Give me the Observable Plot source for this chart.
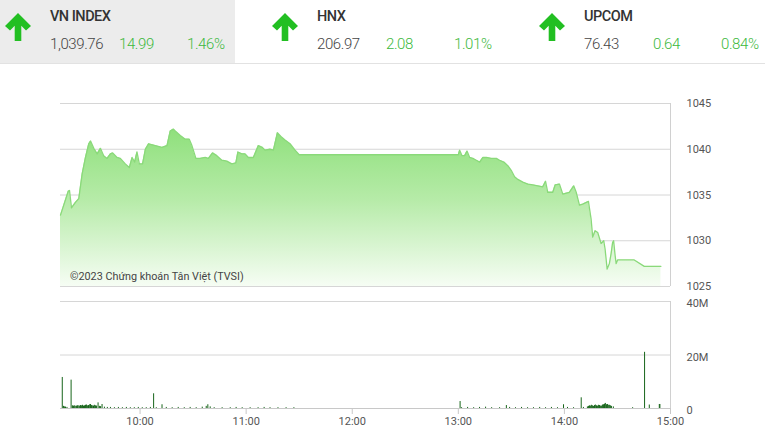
<!DOCTYPE html>
<html><head><meta charset="utf-8">
<script src="https://cdn.jsdelivr.net/npm/d3@7"></script>
<script src="https://cdn.jsdelivr.net/npm/@observablehq/plot@0.6"></script>
<style>
body{margin:0;background:#fff;font-family:Roboto,"Noto Sans",sans-serif;}
#wrap{position:relative;width:765px;height:444px;overflow:hidden;background:#fff;}
.abs{position:absolute;}
.ttl{font-size:14.5px;font-weight:500;color:#333;letter-spacing:-0.5px;white-space:nowrap;}
.num{font-size:15px;font-weight:300;color:#444;letter-spacing:-0.4px;white-space:nowrap;}
.grn{color:#3cb93c;}
#price,#vol{position:absolute;left:0;}
#price{top:0;}
#vol{top:290px;}
.copy{font-size:10.8px;color:#444;white-space:nowrap;}
</style>
</head><body>
<div id="wrap">
  <div class="abs" style="left:0;top:0;width:235px;height:63px;background:#ececec"></div>
  <div class="abs" style="left:0;top:63px;width:765px;height:1px;background:#e2e2e2"></div>
  <div id="hdr"></div>
  <div id="price"></div>
  <div id="vol"></div>
  <div class="abs copy" style="left:70px;top:270px">©2023 Chứng khoán Tân Việt (TVSI)</div>
</div>
<script>
// Header data
const indexNames = ["VN INDEX", "HNX", "UPCOM"];
const indexValues = ["1,039.76", "206.97", "76.43"];
const indexChanges = ["14.99", "2.08", "0.64"];
const indexPercents = ["1.46%", "1.01%", "0.84%"];

// Price series (time of day, index level)
const priceTimes = ["09:15:00","09:19:21","09:20:05","09:21:13","09:23:28","09:25:20","09:27:15","09:29:07","09:31:00","09:32:00","09:33:50","09:35:45","09:37:35","09:39:25","09:41:20","09:43:15","09:44:30","09:47:00","09:48:50","09:51:40","09:53:55","09:55:30","09:56:55","09:58:15","09:59:35","10:01:25","10:03:00","10:04:50","10:08:35","10:12:25","10:15:15","10:17:05","10:18:55","10:19:55","10:22:45","10:25:35","10:27:50","10:29:20","10:31:35","10:34:00","10:36:50","10:38:40","10:41:00","10:43:25","10:46:15","10:49:05","10:51:55","10:54:10","10:55:20","10:57:35","10:59:25","11:01:15","11:04:05","11:06:55","11:09:10","11:10:40","11:13:30","11:15:25","11:17:40","11:20:10","11:22:00","11:24:50","11:27:40","11:30:00","13:00:00","13:00:45","13:02:05","13:03:35","13:04:55","13:06:25","13:08:15","13:10:10","13:12:05","13:13:55","13:15:50","13:18:40","13:21:30","13:23:20","13:25:45","13:28:00","13:29:55","13:31:50","13:33:40","13:36:30","13:39:20","13:42:10","13:44:55","13:47:45","13:49:20","13:50:35","13:53:25","13:54:45","13:57:10","13:59:05","14:02:50","14:05:15","14:06:40","14:08:30","14:10:20","14:13:35","14:15:05","14:16:00","14:17:20","14:18:50","14:20:45","14:22:15","14:23:00","14:24:10","14:25:25","14:26:25","14:27:15","14:27:50","14:28:40","14:29:15","14:30:05","14:39:30","14:45:10","14:54:35"];
const priceValues = [1032.8,1035.4,1035.5,1033.6,1034.2,1034.6,1037.3,1039.1,1040.6,1040.9,1040.1,1039.5,1040.1,1039.3,1039.0,1039.5,1039.6,1039.1,1039.0,1038.4,1038.0,1039.1,1038.6,1039.7,1038.4,1038.4,1040.0,1040.6,1040.4,1040.2,1040.4,1042.0,1042.2,1042.0,1041.5,1041.1,1041.1,1040.4,1039.0,1039.0,1039.1,1039.0,1039.6,1039.3,1038.8,1038.7,1038.4,1038.5,1039.7,1039.5,1039.5,1039.1,1039.1,1040.4,1040.2,1039.9,1040.0,1039.9,1041.8,1041.3,1041.0,1040.6,1039.9,1039.4,1039.4,1039.9,1039.3,1039.3,1039.8,1039.1,1039.0,1038.8,1038.6,1039.1,1039.1,1039.0,1039.0,1038.8,1038.6,1038.2,1037.7,1037.0,1036.7,1036.4,1036.2,1036.1,1036.0,1035.9,1036.5,1035.3,1035.3,1036.1,1036.2,1035.1,1035.3,1036.0,1035.3,1033.9,1034.0,1034.3,1032.4,1030.4,1031.1,1030.9,1029.7,1030.0,1029.1,1026.9,1027.5,1028.6,1029.8,1030.0,1028.4,1027.5,1027.9,1027.9,1027.2,1027.2];

// Volume series (time of day, millions of shares)
const volTimes = ["09:16:00","09:16:40","09:17:20","09:17:50","09:18:40","09:21:00","09:21:45","09:22:20","09:23:00","09:23:40","09:24:00","09:24:40","09:25:00","09:25:40","09:26:20","09:26:50","09:27:25","09:28:00","09:28:35","09:29:10","09:29:40","09:30:20","09:30:50","09:31:30","09:32:00","09:32:30","09:33:00","09:33:40","09:34:10","09:34:50","09:35:20","09:36:15","09:37:00","09:37:40","09:38:30","09:39:50","09:41:30","09:43:15","09:45:30","09:47:45","09:50:00","09:52:15","09:54:30","09:56:45","09:59:00","10:01:15","10:03:30","10:05:50","10:07:40","10:09:10","10:12:25","10:14:50","10:18:10","10:21:35","10:25:00","10:28:20","10:31:45","10:35:10","10:37:25","10:38:20","10:39:40","10:41:55","10:46:25","10:51:00","10:54:20","10:57:45","11:02:15","11:06:45","11:10:10","11:13:30","11:18:00","11:22:35","11:27:00","13:01:00","13:01:50","13:05:15","13:08:40","13:12:00","13:15:25","13:18:50","13:23:20","13:27:10","13:29:00","13:32:20","13:35:45","13:39:10","13:42:30","13:46:00","13:49:20","13:52:40","13:56:05","13:59:30","14:01:45","14:05:10","14:09:30","14:10:45","14:13:00","14:13:40","14:14:10","14:14:50","14:15:15","14:15:50","14:16:25","14:17:00","14:17:30","14:18:10","14:18:40","14:19:20","14:19:50","14:20:20","14:20:55","14:21:30","14:22:05","14:22:40","14:23:10","14:23:50","14:24:20","14:24:50","14:25:25","14:26:00","14:26:35","14:27:40","14:38:35","14:45:20","14:48:00","14:53:40","14:54:00"];
const volValues = [11.6,0.8,0.6,0.5,0.4,10.6,1.0,0.9,1.0,0.8,0.9,1.0,1.0,0.9,1.1,1.0,1.2,0.9,1.0,1.2,1.3,1.0,1.1,1.4,1.5,1.1,1.0,0.9,1.2,1.0,0.9,2.1,0.8,0.7,1.5,0.5,0.4,0.4,0.3,0.4,0.3,0.4,0.3,0.3,0.4,0.3,0.3,0.4,5.5,0.3,1.4,0.4,0.3,0.4,0.3,0.4,0.3,0.5,0.8,1.4,0.6,0.3,0.3,0.3,0.4,0.3,0.3,0.3,0.4,0.3,0.3,0.3,0.3,2.6,0.3,0.4,0.3,0.4,0.5,0.3,0.3,1.1,0.4,0.3,0.4,0.3,0.3,0.4,0.3,0.4,0.3,1.4,0.4,0.3,4.0,0.4,0.6,0.8,1.0,0.9,1.2,1.0,0.8,1.1,1.3,1.0,0.9,1.2,1.1,0.9,0.9,1.3,1.4,1.6,1.9,1.4,1.5,1.2,1.2,1.0,0.8,0.6,0.3,21,1.3,1.5,1.5];

const priceTicks = [1025, 1030, 1035, 1040, 1045];
const volTicks = [0, 20, 40];
const hourTicks = ["10:00:00","11:00:00","12:00:00","13:00:00","14:00:00","15:00:00"];

const T = s => new Date("2023-01-02T" + s);
const priceData = priceTimes.map((t, i) => ({t: T(t), v: priceValues[i]}));
const volData = volTimes.map((t, i) => ({t: T(t), v: volValues[i]}));
const xDomain = [T("09:15:00"), T("15:00:00")];

// Header
const hdr = document.getElementById("hdr");
const panelX = [0, 267, 534];
indexNames.forEach((n, i) => {
  const x0 = panelX[i];
  hdr.insertAdjacentHTML("beforeend",
    `<svg class="abs" style="left:${x0+4}px;top:13px" width="28" height="28" viewBox="0 0 28 28">
       <path d="M14 0 L27 13 L22 17.5 L17.3 12.8 L17.3 28 L10.7 28 L10.7 12.8 L6 17.5 L1 13 Z" fill="#22bf22"/>
     </svg>
     <div class="abs ttl" style="left:${x0+50}px;top:8px">${n}</div>
     <div class="abs num" style="left:${x0+50}px;top:35px">${indexValues[i]}</div>
     <div class="abs num grn" style="left:${x0+119}px;top:35px">${indexChanges[i]}</div>
     <div class="abs num grn" style="left:${x0+187}px;top:35px">${indexPercents[i]}</div>`);
});

const fontStyle = {fontFamily: "Roboto, sans-serif", fontSize: "11px", color: "#555", background: "transparent", overflow: "visible"};

const price = Plot.plot({
  width: 765, height: 290,
  marginTop: 103, marginBottom: 4, marginLeft: 60, marginRight: 95,
  style: fontStyle,
  x: {type: "time", domain: xDomain, axis: null},
  y: {domain: [1025, 1045], axis: null},
  marks: [
    Plot.ruleY(priceTicks, {stroke: "#d6d6d6", strokeWidth: 1}),
    Plot.areaY(priceData, {x: "t", y1: 1025, y2: "v", fill: "url(#pg)"}),
    Plot.lineY(priceData, {x: "t", y: "v", stroke: "#8ad97a", strokeWidth: 1.3}),
    Plot.ruleX([xDomain[1]], {y1: 1025, y2: 1045, stroke: "#d0d0d0"}),
    Plot.axisY(priceTicks, {anchor: "right", label: null, tickSize: 0, tickPadding: 16, fill: "#555", tickFormat: d => String(d)})
  ]
});
d3.select(price).insert("defs", ":first-child").html(
  `<linearGradient id="pg" x1="0" y1="0" x2="0" y2="1">
     <stop offset="0" stop-color="#8fe07c"/>
     <stop offset="0.45" stop-color="#b6eba8"/>
     <stop offset="1" stop-color="#f6fdf4"/>
   </linearGradient>`);
document.getElementById("price").appendChild(price);

const vol = Plot.plot({
  width: 765, height: 154,
  marginTop: 11, marginBottom: 36, marginLeft: 60, marginRight: 95,
  style: fontStyle,
  x: {type: "time", domain: xDomain, axis: null},
  y: {domain: [0, 40], axis: null},
  marks: [
    Plot.ruleY(volTicks, {stroke: "#d6d6d6", strokeWidth: 1}),
    Plot.ruleX([xDomain[1]], {y1: 0, y2: 40, stroke: "#d0d0d0"}),
    Plot.ruleY([0], {stroke: "#c8c8c8"}),
    Plot.ruleX(volData, {x: "t", y1: 0, y2: "v", stroke: "#17651a", strokeWidth: 1}),
    Plot.axisY(volTicks, {anchor: "right", label: null, tickSize: 0, tickPadding: 16, dy: 2, fill: "#555", tickFormat: d => d === 0 ? "0" : d + "M"}),
    Plot.axisX(hourTicks.map(T), {anchor: "bottom", label: null, tickSize: 6, tickPadding: 3, stroke: "#c8c8c8", fill: "#555", tickFormat: d3.timeFormat("%H:%M")})
  ]
});
document.getElementById("vol").appendChild(vol);
</script>
</body></html>
